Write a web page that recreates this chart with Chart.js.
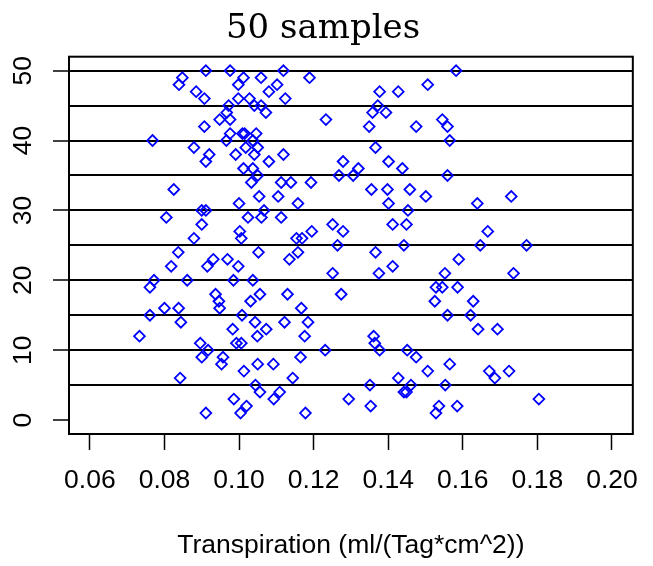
<!DOCTYPE html>
<html>
<head>
<meta charset="utf-8">
<script src="https://cdn.jsdelivr.net/npm/chart.js@4/dist/chart.umd.min.js"></script>
<style>
  body { margin: 0; background: #fff; }
  canvas { display: block; }
</style>
</head>
<body>
<canvas id="myChart" width="653" height="566"></canvas>
<script>
// sample number 1..50 (y axis)
const sample = [1, 2, 3, 4, 5, 6, 7, 8, 9, 10, 11, 12, 13, 14, 15, 16, 17, 18, 19, 20,
  21, 22, 23, 24, 25, 26, 27, 28, 29, 30, 31, 32, 33, 34, 35, 36, 37, 38, 39, 40,
  41, 42, 43, 44, 45, 46, 47, 48, 49, 50];

// four transpiration readings per sample
const rep1 = [0.0911, 0.1020, 0.0986, 0.1056, 0.1044, 0.0842, 0.1013, 0.0953, 0.0900, 0.0917,
  0.0896, 0.0733, 0.0983, 0.0844, 0.0761, 0.0800, 0.0946, 0.0937, 0.0761, 0.0772,
  0.1251, 0.0818, 0.0931, 0.0837, 0.1264, 0.0879, 0.1002, 0.0900, 0.0805, 0.0900,
  0.1000, 0.1054, 0.0825, 0.1033, 0.1050, 0.1012, 0.0911, 0.0920, 0.0879, 0.0768,
  0.0976, 0.0907, 0.0948, 0.0967, 0.0972, 0.0907, 0.0885, 0.0839, 0.0848, 0.0911];
const rep2 = [0.1004, 0.1353, 0.1093, 0.1109, 0.1351, 0.1144, 0.1506, 0.1050, 0.0957, 0.1231,
  0.0993, 0.1049, 0.1073, 0.1043, 0.1008, 0.0838, 0.1031, 0.1056, 0.1528, 0.0861,
  0.1375, 0.0915, 0.0969, 0.1052, 0.1442, 0.1006, 0.1195, 0.1251, 0.1024, 0.0911,
  0.1158, 0.1105, 0.1355, 0.1113, 0.1268, 0.1037, 0.1080, 0.0991, 0.1018, 0.0966,
  0.1009, 0.1349, 0.0976, 0.1072, 0.1041, 0.0998, 0.1080, 0.0998, 0.1012, 0.0976];
const rep3 = [0.1178, 0.1536, 0.1294, 0.1442, 0.1461, 0.1427, 0.1671, 0.1092, 0.1165, 0.1377,
  0.1006, 0.1176, 0.1641, 0.1122, 0.1559, 0.0948, 0.1525, 0.1130, 0.1545, 0.0985,
  0.1552, 0.0998, 0.1135, 0.1158, 0.1647, 0.1154, 0.1279, 0.1412, 0.1060, 0.1067,
  0.1401, 0.1501, 0.1398, 0.1139, 0.1306, 0.1320, 0.1279, 0.1041, 0.1050, 0.1037,
  0.1015, 0.1475, 0.1233, 0.1358, 0.1059, 0.1028, 0.1377, 0.1102, 0.1059, 0.1119];
const rep4 = [0.1528, 0.1585, 0.1804, 0.1449, 0.1553, 0.1686, 0.1724, 0.1565, 0.1475, 0.1451,
  0.1364, 0.1361, 0.1693, 0.1185, 0.1621, 0.1167, 0.1628, 0.1274, 0.1586, 0.1037,
  0.1736, 0.1412, 0.1589, 0.1366, 0.1771, 0.1169, 0.1667, 0.1449, 0.1113, 0.1453,
  0.1639, 0.1730, 0.1458, 0.1193, 0.1559, 0.1438, 0.1401, 0.1119, 0.1366, 0.1565,
  0.1046, 0.1559, 0.1545, 0.1394, 0.1372, 0.1124, 0.1427, 0.1506, 0.1189, 0.1582];

// tick positions
const xTicks = [0.06, 0.08, 0.10, 0.12, 0.14, 0.16, 0.18, 0.20];
const yTicks = [0, 5, 10, 15, 20, 25, 30, 35, 40, 45, 50];

const sans = "'Liberation Sans', Arial, sans-serif";

// box around the plot region
const framePlugin = {
    id: 'frame',
    afterDatasetsDraw(chart) {
        const { ctx, chartArea: a } = chart;
        ctx.save();
        ctx.strokeStyle = '#000';
        ctx.lineWidth = 2;
        ctx.strokeRect(a.left, a.top, a.right - a.left, a.bottom - a.top);
        ctx.restore();
    }
};

function makeSet(vals) {
    return {
        data: sample.map((s, i) => ({ x: vals[i], y: s })),
        pointStyle: 'rectRot',
        pointRadius: 5.4,
        pointBorderWidth: 1.8,
        borderColor: '#0000ff',
        backgroundColor: 'rgba(0,0,0,0)',
        showLine: false
    };
}

const ctx = document.getElementById('myChart').getContext('2d');
new Chart(ctx, {
    type: 'scatter',
    data: {
        datasets: [makeSet(rep1), makeSet(rep2), makeSet(rep3), makeSet(rep4)]
    },
    options: {
        responsive: false,
        animation: false,
        layout: { padding: { left: 0, right: 7, top: 0, bottom: 0 } },
        plugins: {
            legend: { display: false },
            tooltip: { enabled: false },
            title: {
                display: true,
                text: '50 samples',
                color: '#000',
                font: { family: "'DejaVu Serif', serif", size: 34, weight: 'normal' },
                padding: { top: 9, bottom: 6.9 }
            }
        },
        scales: {
            x: {
                type: 'linear',
                min: 0.0544,
                max: 0.2056,
                afterBuildTicks: s => { s.ticks = xTicks.map(v => ({ value: v })); },
                afterFit: s => { s.height = 132; },
                border: { display: false },
                grid: {
                    drawOnChartArea: false,
                    tickLength: 16,
                    tickColor: '#000',
                    tickWidth: 1.5
                },
                ticks: {
                    autoSkip: false,
                    maxRotation: 0,
                    padding: 15,
                    color: '#000',
                    font: { family: sans, size: 26.5 },
                    callback: v => v.toFixed(2)
                },
                title: {
                    display: true,
                    text: 'Transpiration (ml/(Tag*cm^2))',
                    color: '#000',
                    font: { family: sans, size: 26.5 },
                    padding: { top: 0, bottom: 4 }
                }
            },
            y: {
                type: 'linear',
                min: -2,
                max: 52,
                afterBuildTicks: s => { s.ticks = yTicks.map(v => ({ value: v })); },
                afterFit: s => { s.width = 69; },
                border: { display: false },
                grid: {
                    color: c => (c.tick && c.tick.value === 0) ? 'rgba(0,0,0,0)' : '#000',
                    lineWidth: 2,
                    tickLength: 16,
                    tickWidth: 1.5,
                    tickColor: c => (c.tick && c.tick.value % 10 === 0) ? '#000' : 'rgba(0,0,0,0)'
                },
                ticks: {
                    autoSkip: false,
                    minRotation: 90,
                    maxRotation: 90,
                    crossAlign: 'center',
                    padding: 15,
                    color: '#000',
                    font: { family: sans, size: 26.5 },
                    callback: v => (v % 10 === 0 ? String(v) : '')
                }
            }
        }
    },
    plugins: [framePlugin]
});
</script>
</body>
</html>
